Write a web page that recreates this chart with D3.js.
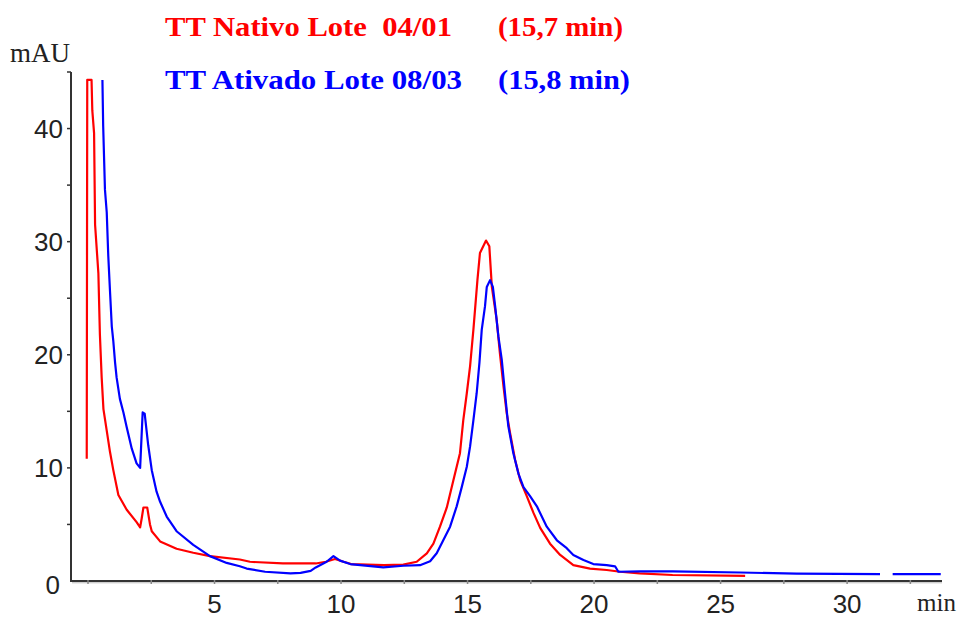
<!DOCTYPE html>
<html><head><meta charset="utf-8">
<script src="https://cdn.jsdelivr.net/npm/d3@7"></script>
<style>
html,body{margin:0;padding:0;background:#fff;}
svg{display:block;}
</style></head>
<body>
<svg id="chart" width="960" height="619"></svg>
<script>
// ---- data ----
const seriesNames = ["TT Nativo Lote  04/01", "TT Ativado Lote 08/03"];
const retentionLabels = ["(15,7 min)", "(15,8 min)"];
const seriesColors = ["#ff0000", "#0000ff"];

const nativoTime = [-0.05,-0.03,0.14,0.17,0.24,0.28,0.41,0.47,0.54,0.61,0.74,0.87,1.0,1.2,1.53,1.92,2.06,2.12,2.19,2.34,2.45,2.52,2.85,3.5,4.16,4.82,6.0,6.4,7.7,9.0,9.4,9.76,10.1,10.4,11.7,12.46,12.99,13.39,13.65,13.91,14.18,14.44,14.7,14.83,14.97,15.1,15.23,15.39,15.49,15.73,15.86,15.96,16.15,16.28,16.42,16.55,16.68,16.88,17.08,17.34,17.61,17.87,18.26,18.66,19.18,19.84,20.5,21.03,21.8,23.1,25.97];
const nativoValue = [10.8,44.3,44.3,41.6,39.6,31.5,27.2,21.8,18,15.2,13.3,11.4,9.8,7.6,6.3,5.2,4.75,5.5,6.5,6.5,5.0,4.4,3.5,2.85,2.5,2.2,1.9,1.7,1.55,1.55,1.7,1.95,1.7,1.5,1.4,1.45,1.7,2.45,3.3,4.8,6.5,8.9,11.3,14.2,16.6,19,22.2,26.6,29,30.1,29.6,26,23.1,20.1,17.2,14.8,13.1,10.7,8.9,7.5,6.0,4.7,3.3,2.3,1.4,1.1,0.97,0.82,0.68,0.53,0.45];

const ativadoTime = [0.57,0.6,0.67,0.74,0.8,0.87,0.94,1.0,1.07,1.13,1.26,1.4,1.53,1.73,1.92,2.06,2.16,2.24,2.38,2.52,2.71,2.85,3.11,3.5,4.16,4.82,5.48,6.0,6.27,7.0,8.0,8.4,8.8,9.0,9.43,9.7,9.96,10.36,11.67,12.46,13.12,13.52,13.78,14.04,14.31,14.57,14.77,14.97,15.1,15.23,15.36,15.47,15.56,15.69,15.76,15.89,16.0,16.09,16.22,16.35,16.48,16.61,16.81,17.01,17.21,17.47,17.74,18.13,18.53,18.92,19.18,19.58,19.97,20.5,20.83,20.96,21.8,23.1,25.77,28.0,31.3,31.5,31.8,33.7];
const ativadoValue = [44.3,40.2,34.6,32.6,28.8,25.6,22.5,21.2,19.3,18,16.1,14.9,13.6,11.7,10.4,10.0,14.9,14.8,12,9.8,7.9,7.0,5.7,4.4,3.2,2.2,1.6,1.3,1.1,0.82,0.68,0.72,0.9,1.2,1.7,2.2,1.8,1.5,1.2,1.35,1.4,1.75,2.45,3.6,4.8,6.6,8.3,10.1,11.9,14.2,16.6,19.3,22.2,24.3,26,26.6,26,24.3,21.6,19.6,16.6,13.7,11.3,9.5,8.3,7.5,6.6,4.8,3.6,2.9,2.3,1.85,1.5,1.4,1.3,0.82,0.85,0.85,0.75,0.65,0.6,NaN,0.6,0.6];

const yTickLabels = [0,10,20,30,40];
const xTickLabels = [5,10,15,20,25,30];
const yUnit = "mAU";
const xUnit = "min";

// ---- layout ----
const svg = d3.select("#chart");
const x = d3.scaleLinear().domain([-0.672, 33.75]).range([71, 942]);
const y = d3.scaleLinear().domain([0, 45]).range([581, 72]);

const axisColor = "#333";
const labelFont = "'Liberation Sans', Arial, sans-serif";
const serif = "'Liberation Serif', 'Times New Roman', serif";

// y axis line
svg.append("line").attr("x1",71).attr("x2",71).attr("y1",y(45)).attr("y2",y(0))
  .attr("stroke",axisColor).attr("stroke-width",2);
// x axis line
svg.append("line").attr("x1",70).attr("x2",x(33.75)).attr("y1",y(0)).attr("y2",y(0))
  .attr("stroke",axisColor).attr("stroke-width",2);
svg.append("line").attr("x1",72).attr("x2",x(33.75)).attr("y1",y(0)+1.8).attr("y2",y(0)+1.8)
  .attr("stroke","#bbb").attr("stroke-width",1);

// y ticks every 5
svg.append("g").selectAll("line").data(d3.range(5, 46, 5)).join("line")
  .attr("x1",67).attr("x2",71).attr("y1",d=>y(d)).attr("y2",d=>y(d))
  .attr("stroke",axisColor).attr("stroke-width",1.5);
// x ticks every 2.5
svg.append("g").selectAll("line").data(d3.range(0, 33.6, 2.5)).join("line")
  .attr("x1",d=>x(d)).attr("x2",d=>x(d)).attr("y1",y(0)-1).attr("y2",y(0)+3)
  .attr("stroke","#888").attr("stroke-width",1.5);

// y labels
svg.append("g").selectAll("text").data(yTickLabels.filter(d=>d>0)).join("text")
  .attr("x",63).attr("y",d=>y(d)).attr("dy","0.36em").attr("text-anchor","end")
  .attr("font-family",labelFont).attr("font-size",26).attr("fill","#222")
  .text(d=>d);
svg.append("text").attr("x",60).attr("y",594).attr("text-anchor","end")
  .attr("font-family",labelFont).attr("font-size",26).attr("fill","#222").text(yTickLabels[0]);
// x labels
svg.append("g").selectAll("text").data(xTickLabels).join("text")
  .attr("x",d=>x(d)).attr("y",613).attr("text-anchor","middle")
  .attr("font-family",labelFont).attr("font-size",26).attr("fill","#222")
  .text(d=>d);
svg.append("text").attr("x",10).attr("y",62)
  .attr("font-family",serif).attr("font-size",27).attr("fill","#222")
  .attr("textLength",60).attr("lengthAdjust","spacingAndGlyphs").text(yUnit);
svg.append("text").attr("x",917).attr("y",611)
  .attr("font-family",serif).attr("font-size",25).attr("fill","#222")
  .attr("textLength",39).attr("lengthAdjust","spacingAndGlyphs").text(xUnit);

// curves
const line = d3.line().defined(d=>!isNaN(d[1])).x(d=>x(d[0])).y(d=>y(d[1])).curve(d3.curveLinear);
const nativo = nativoTime.map((t,i)=>[t,nativoValue[i]]);
const ativado = ativadoTime.map((t,i)=>[t,ativadoValue[i]]);
svg.append("path").datum(nativo).attr("d",line).attr("fill","none")
  .attr("stroke",seriesColors[0]).attr("stroke-width",2.2).attr("stroke-linejoin","round");
svg.append("path").datum(ativado).attr("d",line).attr("fill","none")
  .attr("stroke",seriesColors[1]).attr("stroke-width",2.2).attr("stroke-linejoin","round");

// legend
const legY = [36, 89];
const nameLen = [287, 297];
const rtLen = [125, 132];
seriesNames.forEach((n,i)=>{
  svg.append("text").attr("x",165).attr("y",legY[i]).attr("font-family",serif)
    .attr("font-weight","bold").attr("font-size",28).attr("fill",seriesColors[i])
    .attr("textLength",nameLen[i]).attr("lengthAdjust","spacingAndGlyphs")
    .style("white-space","pre").text(n);
  svg.append("text").attr("x",498).attr("y",legY[i]).attr("font-family",serif)
    .attr("font-weight","bold").attr("font-size",28).attr("fill",seriesColors[i])
    .attr("textLength",rtLen[i]).attr("lengthAdjust","spacingAndGlyphs")
    .text(retentionLabels[i]);
});
</script>
</body></html>
